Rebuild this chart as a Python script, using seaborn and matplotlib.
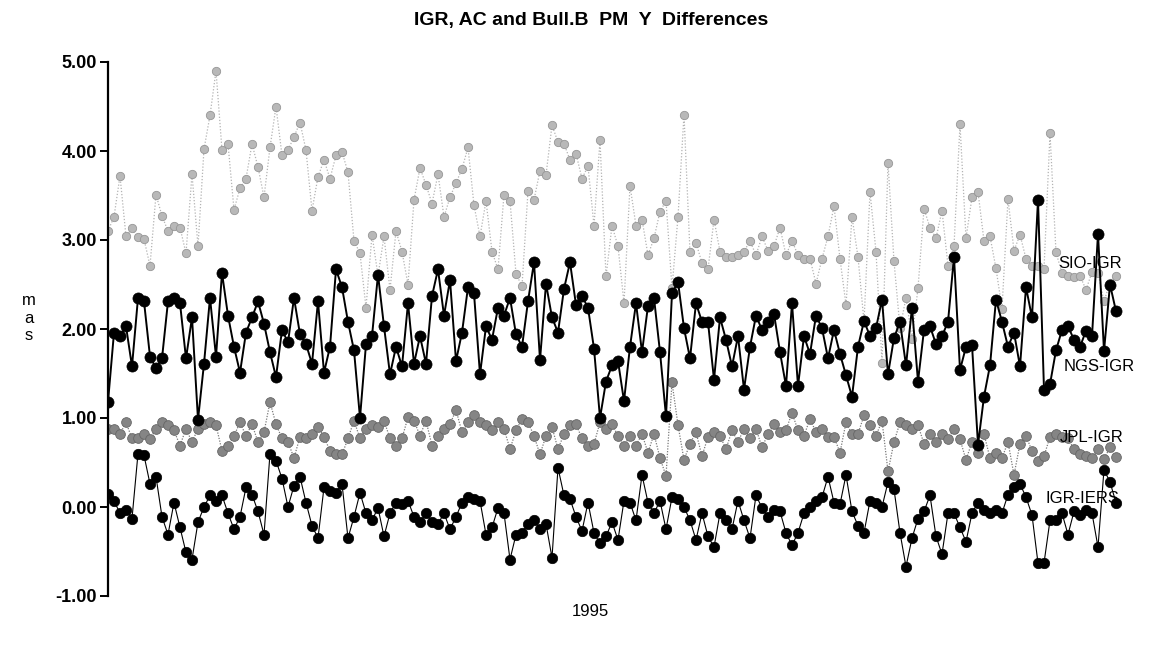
import numpy as np
import pandas as pd
import matplotlib
matplotlib.use("Agg")
import matplotlib.pyplot as plt
import seaborn as sns

# ---- data (mas), samples across 1995 ----
sio_igr = [
    3.10, 3.26, 3.72, 3.04, 3.13, 3.03, 3.01, 2.71, 3.51, 3.27, 3.10, 3.16,
    3.14, 2.85, 3.74, 2.93, 4.02, 4.40, 4.90, 4.01, 4.08, 3.34, 3.58, 3.69,
    4.08, 3.82, 3.48, 4.04, 4.50, 3.95, 4.01, 4.16, 4.32, 4.01, 3.33, 3.71,
    3.90, 3.69, 3.95, 3.99, 3.76, 2.99, 2.85, 2.24, 3.06, 2.60, 3.04, 2.44,
    3.10, 2.87, 2.50, 3.45, 3.81, 3.62, 3.41, 3.74, 3.26, 3.48, 3.64, 3.80,
    4.04, 3.39, 3.04, 3.44, 2.87, 2.67, 3.51, 3.44, 2.62, 2.48, 3.55, 3.45,
    3.78, 3.73, 4.29, 4.10, 4.08, 3.90, 3.97, 3.69, 3.83, 3.16, 4.12, 2.59,
    3.16, 2.93, 2.29, 3.61, 3.16, 3.23, 2.83, 3.02, 3.32, 3.44, 2.46, 3.26,
    4.41, 2.86, 2.97, 2.74, 2.67, 3.23, 2.87, 2.81, 2.81, 2.83, 2.87, 2.99,
    2.83, 3.04, 2.88, 2.93, 3.14, 2.83, 2.99, 2.83, 2.79, 2.79, 2.51, 2.79,
    3.04, 3.38, 2.79, 2.27, 3.26, 2.81, 2.08, 3.54, 2.87, 1.62, 3.87, 2.76,
    2.01, 2.35, 1.89, 2.46, 3.35, 3.14, 3.02, 3.33, 2.71, 2.93, 4.30, 3.02,
    3.48, 3.54, 2.99, 3.04, 2.68, 2.23, 3.46, 2.88, 3.06, 2.79, 2.71, 2.71,
    2.67, 4.20, 2.86, 2.63, 2.59, 2.58, 2.60, 2.44, 2.64, 2.63, 2.31, 2.52,
    2.60,
]

ngs_igr = [
    1.18, 1.96, 1.92, 2.03, 1.58, 2.35, 2.31, 1.69, 1.56, 1.67, 2.31, 2.35,
    2.29, 1.67, 2.13, 0.98, 1.61, 2.35, 1.69, 2.63, 2.15, 1.80, 1.51, 1.96,
    2.13, 2.31, 2.06, 1.74, 1.46, 1.99, 1.85, 2.35, 1.94, 1.83, 1.61, 2.31,
    1.51, 1.80, 2.67, 2.47, 2.08, 1.76, 1.00, 1.83, 1.92, 2.61, 2.03, 1.49,
    1.80, 1.58, 2.29, 1.61, 1.92, 1.61, 2.37, 2.67, 2.15, 2.55, 1.64, 1.96,
    2.47, 2.40, 1.49, 2.03, 1.88, 2.24, 2.15, 2.35, 1.94, 1.80, 2.31, 2.75,
    1.65, 2.51, 2.13, 1.96, 2.45, 2.75, 2.27, 2.37, 2.24, 1.78, 1.00, 1.41,
    1.59, 1.64, 1.19, 1.80, 2.29, 1.74, 2.26, 2.35, 1.74, 1.02, 2.40, 2.53,
    2.01, 1.67, 2.29, 2.08, 2.08, 1.43, 2.13, 1.88, 1.58, 1.92, 1.32, 1.80,
    2.15, 1.99, 2.08, 2.17, 1.74, 1.36, 2.29, 1.36, 1.92, 1.72, 2.15, 2.01,
    1.67, 1.99, 1.72, 1.48, 1.24, 1.80, 2.09, 1.92, 2.01, 2.33, 1.49, 1.90,
    2.08, 1.59, 2.24, 1.41, 1.99, 2.03, 1.83, 1.92, 2.08, 2.81, 1.54, 1.80,
    1.82, 0.70, 1.24, 1.59, 2.33, 2.08, 1.80, 1.96, 1.58, 2.47, 2.13, 3.45,
    1.32, 1.38, 1.76, 1.99, 2.03, 1.88, 1.80, 1.98, 1.92, 3.07, 1.75, 2.50,
    2.20,
]

jpl_igr = [
    0.88, 0.88, 0.82, 0.95, 0.77, 0.77, 0.82, 0.76, 0.88, 0.95, 0.92, 0.86,
    0.69, 0.88, 0.73, 0.88, 0.93, 0.95, 0.92, 0.63, 0.69, 0.80, 0.95, 0.80,
    0.93, 0.73, 0.84, 1.18, 0.93, 0.77, 0.73, 0.55, 0.79, 0.77, 0.82, 0.90,
    0.79, 0.63, 0.59, 0.59, 0.77, 0.97, 0.77, 0.88, 0.92, 0.90, 0.97, 0.77,
    0.69, 0.77, 1.01, 0.97, 0.80, 0.97, 0.69, 0.80, 0.88, 0.93, 1.09, 0.84,
    0.95, 1.03, 0.95, 0.92, 0.86, 0.95, 0.88, 0.65, 0.86, 0.99, 0.95, 0.80,
    0.59, 0.80, 0.90, 0.65, 0.82, 0.92, 0.93, 0.77, 0.69, 0.71, 0.95, 0.88,
    0.93, 0.80, 0.69, 0.80, 0.69, 0.82, 0.61, 0.82, 0.55, 0.35, 1.40, 0.92,
    0.53, 0.71, 0.84, 0.57, 0.79, 0.84, 0.80, 0.65, 0.86, 0.73, 0.88, 0.77,
    0.88, 0.67, 0.82, 0.93, 0.84, 0.86, 1.06, 0.86, 0.80, 0.99, 0.84, 0.88,
    0.79, 0.79, 0.61, 0.95, 0.82, 0.82, 1.03, 0.92, 0.80, 0.97, 0.40, 0.73,
    0.95, 0.92, 0.88, 0.92, 0.71, 0.82, 0.73, 0.82, 0.76, 0.88, 0.76, 0.53,
    0.73, 0.61, 0.82, 0.55, 0.61, 0.55, 0.73, 0.36, 0.71, 0.80, 0.63, 0.52,
    0.57, 0.79, 0.82, 0.79, 0.77, 0.65, 0.59, 0.57, 0.55, 0.65, 0.54, 0.67,
    0.56,
]

igr_iers = [
    0.15, 0.07, -0.07, -0.03, -0.13, 0.60, 0.58, 0.26, 0.34, -0.11, -0.31, 0.05,
    -0.23, -0.51, -0.59, -0.17, 0.00, 0.13, 0.07, 0.13, -0.07, -0.25, -0.11, 0.22,
    0.14, -0.05, -0.31, 0.60, 0.52, 0.32, 0.00, 0.24, 0.34, 0.05, -0.21, -0.35,
    0.22, 0.18, 0.16, 0.26, -0.35, -0.11, 0.16, -0.07, -0.15, -0.01, -0.33, -0.07,
    0.05, 0.03, 0.07, -0.11, -0.17, -0.07, -0.17, -0.19, -0.07, -0.25, -0.11, 0.05,
    0.11, 0.09, 0.07, -0.31, -0.23, -0.01, -0.07, -0.59, -0.31, -0.29, -0.19, -0.15,
    -0.25, -0.19, -0.57, 0.44, 0.13, 0.09, -0.11, -0.27, 0.05, -0.29, -0.41, -0.33,
    -0.17, -0.37, 0.07, 0.05, -0.15, 0.36, 0.05, -0.07, 0.07, -0.25, 0.11, 0.09,
    0.00, -0.15, -0.37, -0.07, -0.33, -0.45, -0.07, -0.15, -0.25, 0.07, -0.15, -0.35,
    0.13, -0.01, -0.11, -0.03, -0.05, -0.29, -0.43, -0.29, -0.07, 0.00, 0.07, 0.11,
    0.34, 0.05, 0.03, 0.36, -0.05, -0.21, -0.29, 0.07, 0.05, 0.00, 0.28, 0.20,
    -0.29, -0.67, -0.35, -0.13, -0.05, 0.13, -0.33, -0.53, -0.07, -0.07, -0.23, -0.39,
    -0.07, 0.05, -0.03, -0.07, -0.03, -0.07, 0.14, 0.22, 0.26, 0.11, -0.09, -0.63,
    -0.63, -0.15, -0.15, -0.07, -0.31, -0.05, -0.09, -0.03, -0.07, -0.45, 0.42, 0.28,
    0.05,
]

series_names = ["SIO-IGR", "NGS-IGR", "JPL-IGR", "IGR-IERS"]
y_ticks = [-1.0, 0.0, 1.0, 2.0, 3.0, 4.0, 5.0]
title = "IGR, AC and Bull.B  PM  Y  Differences"
x_label = "1995"
y_label = "m\na\ns"

# ---- figure ----
sns.set_style("white")
plt.rcParams["font.family"] = ["Liberation Sans", "DejaVu Sans"]
plt.rcParams["text.color"] = "black"
plt.rcParams["axes.labelcolor"] = "black"
plt.rcParams["ytick.color"] = "black"

W, H = 1157, 663
fig = plt.figure(figsize=(W / 100, H / 100), dpi=100)
ax = fig.add_axes([108 / W, 1 - 596 / H, (1125 - 108) / W, (596 - 62) / H])

styles = {
    "SIO-IGR": dict(color="#b3b3b3", linestyle=(0, (1, 1.5)), linewidth=0.9,
                    marker="o", markersize=6, markerfacecolor="#b8b8b8",
                    markeredgecolor="#969696", markeredgewidth=0.6),
    "JPL-IGR": dict(color="#7a7a7a", linestyle=(0, (1, 1.2)), linewidth=0.9,
                    marker="o", markersize=7, markerfacecolor="#858585",
                    markeredgecolor="#666666", markeredgewidth=0.6),
    "NGS-IGR": dict(color="black", linestyle="-", linewidth=1.4,
                    marker="o", markersize=8, markerfacecolor="black",
                    markeredgecolor="black", markeredgewidth=0.5),
    "IGR-IERS": dict(color="black", linestyle="-", linewidth=0.8,
                     marker="o", markersize=7.5, markerfacecolor="black",
                     markeredgecolor="black", markeredgewidth=0.5),
}

data = {"SIO-IGR": sio_igr, "NGS-IGR": ngs_igr, "JPL-IGR": jpl_igr, "IGR-IERS": igr_iers}
for name in ["SIO-IGR", "JPL-IGR", "NGS-IGR", "IGR-IERS"]:
    vals = data[name]
    df = pd.DataFrame({"day": np.arange(len(vals)), "mas": vals})
    sns.lineplot(data=df, x="day", y="mas", ax=ax, legend=False, **styles[name])

ax.set_xlim(0, (1125 - 108) / 6)
ax.set_ylim(-1.0, 5.0)
ax.set_yticks(y_ticks)
ax.set_yticklabels([f"{t:.2f}" for t in y_ticks])
ax.set_xticks([])
ax.set_xlabel("")
ax.set_ylabel("")
for s in ["top", "right", "bottom"]:
    ax.spines[s].set_visible(False)
ax.spines["left"].set_linewidth(1.6)
ax.spines["left"].set_color("black")
ax.tick_params(axis="y", direction="out", length=6, width=1.4, left=True,
               labelsize=13, pad=2, colors="black")
for lab in ax.get_yticklabels():
    lab.set_fontweight("bold")

# series labels placed near the right end
label_pos = {"SIO-IGR": (158.3, 2.74), "NGS-IGR": (159.3, 1.58),
             "JPL-IGR": (158.7, 0.78), "IGR-IERS": (156.2, 0.10)}
for name in series_names:
    x0, y0 = label_pos[name]
    ax.text(x0, y0, name, fontsize=12, ha="left", va="center", color="black")

fig.text(591 / W, 1 - 20 / H, title, ha="center", va="center",
         fontsize=14, fontweight="bold", color="black")
fig.text(590 / W, 1 - 612 / H, x_label, ha="center", va="center", fontsize=12,
         color="black")
fig.text(29 / W, 1 - 318 / H, y_label, ha="center", va="center", fontsize=12,
         linespacing=1.2, color="black")

fig.savefig("out.png", dpi=100)
